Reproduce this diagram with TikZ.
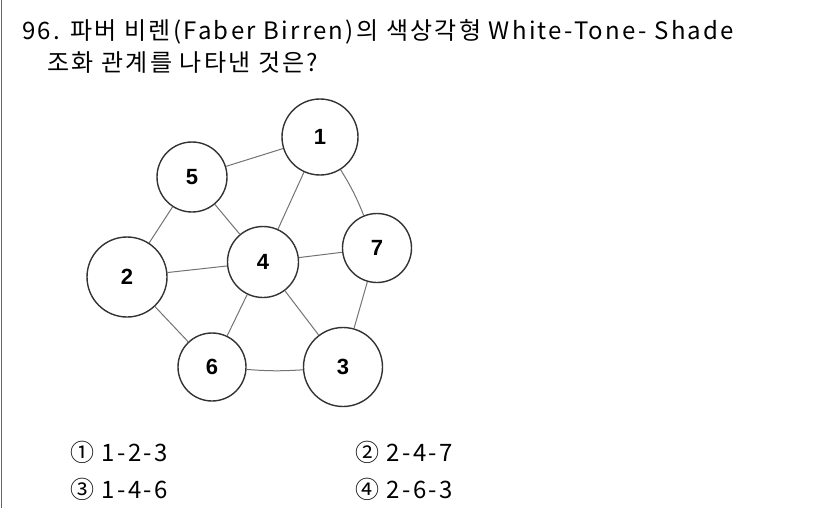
\documentclass[tikz,border=0pt]{standalone}
\usepackage{fontspec}
\usepackage{tikz}
\usetikzlibrary{positioning}
\newfontfamily\krfont[LetterSpace=9.5]{Noto Sans CJK KR}
\newfontfamily\numfont{Liberation Sans}

\begin{document}
\begin{tikzpicture}[
  x=1pt, y=-1pt,
  hue/.style  = {circle, draw=black!80, line width=1.4pt, inner sep=0pt, font=\numfont\bfseries\fontsize{22}{22}\selectfont},
  link/.style = {draw=black!55, line width=1pt},
  txt/.style  = {anchor=base west, inner sep=0pt, font=\krfont\fontsize{24}{24}\selectfont}
]
  \useasboundingbox (0,0) rectangle (826,508);
  \draw[black!60, line width=1.5pt] (1.5,0) -- (1.5,508);

  % Question
  \node[txt] (q1) at (22,40) {96. 파버 비렌(Faber Birren)의 색상각형 White-Tone- Shade};
  \node[txt] (q2) at (47,72) {조화 관계를 나타낸 것은?};

  % Hue circles
  \node[hue, minimum size=76pt] (c1) at (320,137) {1};
  \node[hue, minimum size=70pt] (c5) at (192,177) {5};
  \node[hue, minimum size=80pt] (c2) at (127,277) {2};
  \node[hue, minimum size=71pt] (c4) at (263,262) {4};
  \node[hue, minimum size=69pt] (c7) at (377,248) {7};
  \node[hue, minimum size=68pt] (c6) at (212,367) {6};
  \node[hue, minimum size=79pt] (c3) at (343,367) {3};

  \draw[link] (c5) -- (c1);
  \draw[link] (c1) to[bend left=5] (c7);
  \draw[link] (c1) -- (c4);
  \draw[link] (c5) -- (c2);
  \draw[link] (c5) -- (c4);
  \draw[link] (c2) -- (c4);
  \draw[link] (c4) -- (c7);
  \draw[link] (c2) -- (c6);
  \draw[link] (c4) -- (c6);
  \draw[link] (c4) -- (c3);
  \draw[link] (c7) -- (c3);
  \draw[link] (c6) to[bend right=4] (c3);

  % Answers
  \node[txt] (a1) at (70,461) {① 1-2-3};
  \node[txt] (a2) at (355,461) {② 2-4-7};
  \node[txt] (a3) at (70,498) {③ 1-4-6};
  \node[txt] (a4) at (355,498) {④ 2-6-3};
\end{tikzpicture}
\end{document}
